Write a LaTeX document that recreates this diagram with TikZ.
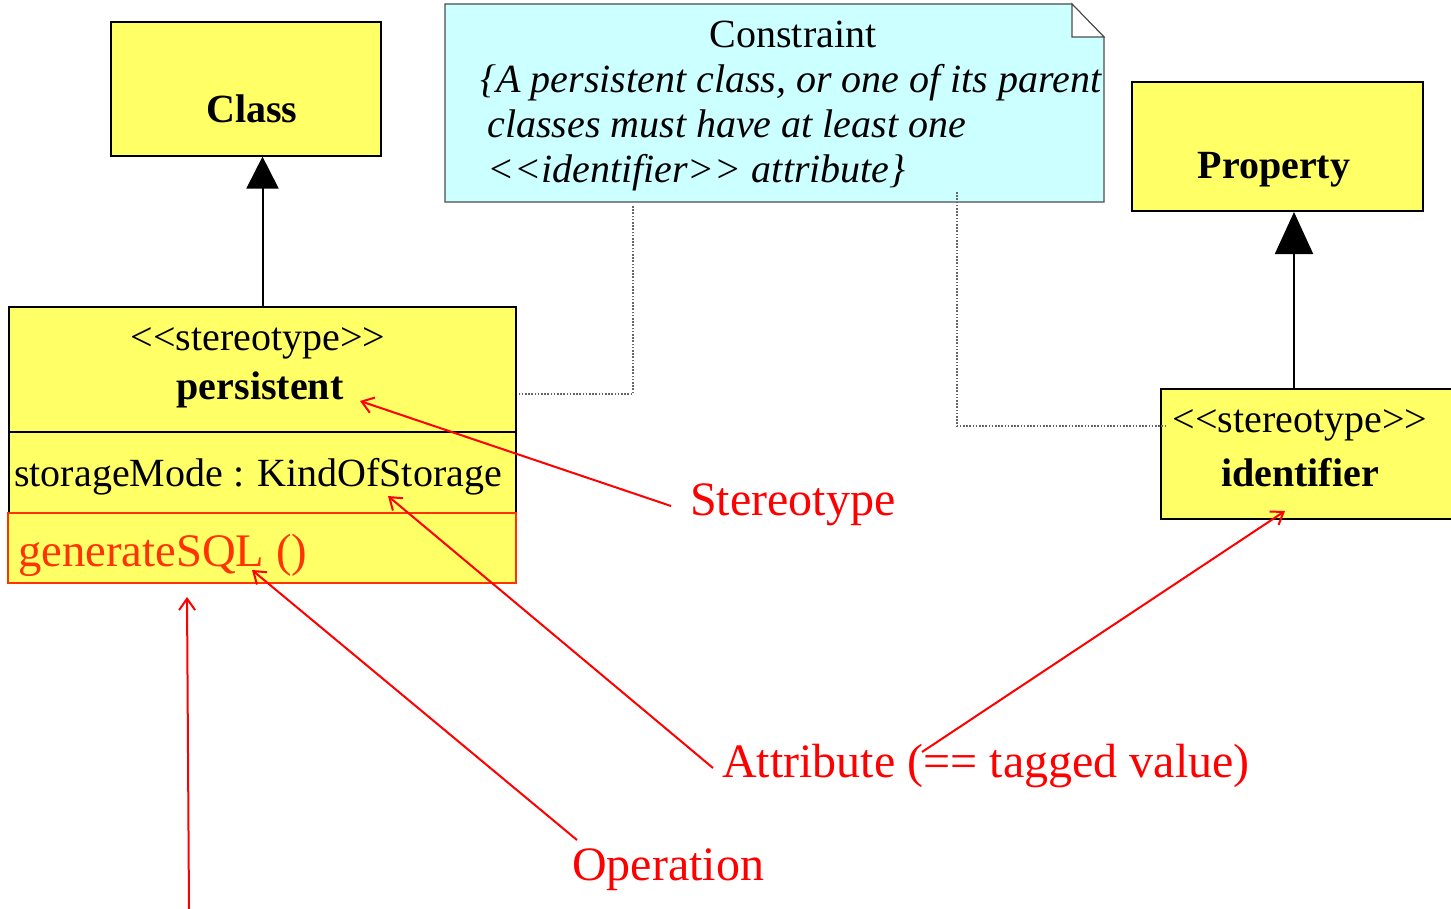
\documentclass[tikz,border=0pt]{standalone}
\usepackage{fontspec}
\setmainfont{Liberation Serif}
\usetikzlibrary{arrows.meta,calc}

\definecolor{umlyellow}{HTML}{FFFF66}
\definecolor{notecyan}{HTML}{CCFFFF}
\definecolor{opred}{HTML}{FF3300}
\newcommand\umlsize{\fontsize{30pt}{36pt}\selectfont}
\newcommand\calloutsize{\fontsize{36pt}{43pt}\selectfont}

\begin{document}
\begin{tikzpicture}[x=0.75pt,y=-0.75pt,
  box/.style={draw=black, fill=umlyellow, line width=0.9pt, inner sep=0pt},
  txt/.style={inner sep=0pt, font=\umlsize},
  callout/.style={inner sep=0pt, font=\calloutsize, text=red},
  inherit/.style={draw=black, line width=1.5pt},
  pointer/.style={draw=red, line width=1.5pt,
    -{Straight Barb[length=8.5pt,width=12pt,line width=1.5pt]}},
  dotline/.style={draw=black!60, line width=0.8pt, dash pattern=on 1.2pt off 1.2pt}]

\useasboundingbox (0,0) rectangle (1451,909);

% constraint note with folded corner
\path[draw=black!70, fill=notecyan, line width=0.8pt]
  (445,4) -- (1072,4) -- (1104,37) -- (1104,202) -- (445,202) -- cycle;
\path[draw=black!70, fill=white, line width=0.8pt]
  (1072,4) -- (1104,37) -- (1072,37) -- cycle;
\node[txt, anchor=base] (noteTitle) at (793,48) {Constraint};
\node[txt, anchor=base west, font=\umlsize\itshape] (noteL1) at (480,93)
  {\{A persistent class, or one of its parent};
\node[txt, anchor=base west, font=\umlsize\itshape] (noteL2) at (487,138)
  {classes must have at least one};
\node[txt, anchor=base west, font=\umlsize\itshape] (noteL3) at (487,183)
  {<{}<identifier>{}> attribute\}};

% metaclasses
\node[box, minimum width=202.5pt, minimum height=100.5pt] (classBox) at (246,89) {};
\node[txt, anchor=base, font=\umlsize\bfseries] (className) at (252,123) {Class};

\node[box, line width=1.5pt, minimum width=218.25pt, minimum height=96.75pt] (propBox) at (1277.5,146.5) {};
\node[txt, anchor=base, font=\umlsize\bfseries] (propName) at (1274,179) {Property};

% stereotype <<persistent>>
\node[box, minimum width=380.25pt, minimum height=93.75pt] (persistHead) at (262.5,369.5) {};
\node[box, minimum width=380.25pt, minimum height=60.75pt] (persistAttr) at (262.5,472.5) {};
\node[box, draw=opred, line width=1.2pt, minimum width=381pt, minimum height=52.5pt] (persistOps) at (262,548) {};
\node[txt, anchor=base] (persistSt) at (258,350) {<{}<stereotype>{}>};
\node[txt, anchor=base, font=\umlsize\bfseries] (persistName) at (260,399) {persistent};
\node[txt, anchor=base west] (attrText) at (14,486) {storageMode : KindOfStorage};
\node[txt, anchor=base west, font=\fontsize{35pt}{42pt}\selectfont, text=opred] (opText) at (18,566) {generateSQL ()};

% stereotype <<identifier>>
\node[box, line width=1.5pt, minimum width=220.5pt, minimum height=97.5pt] (identBox) at (1308,454) {};
\node[txt, anchor=base] (identSt) at (1300,432) {<{}<stereotype>{}>};
\node[txt, anchor=base, font=\umlsize\bfseries] (identName) at (1300,486) {identifier};

% extension arrows
\draw[inherit, -{Triangle[length=24pt,width=24pt]}]
  (persistHead.north) -- (persistHead.north |- classBox.south);
\coordinate (identTop) at ($(identBox.north)+(-14,0)$);
\draw[inherit, -{Triangle[length=31.5pt,width=28.5pt]}]
  (identTop) -- (identTop |- propBox.south);

% note anchors
\coordinate (noteFootL) at (633,205);
\coordinate (noteFootR) at (957,192);
\draw[dotline] ($(persistHead.east)+(2,24.5)$) -| (noteFootL);
\draw[dotline] (noteFootR) |- ($(identBox.west)+(6,-28)$);

% callouts
\node[callout, anchor=base west] (lblStereo) at (690,515) {Stereotype};
\node[callout, anchor=base west] (lblAttr) at (722,777) {Attribute (== tagged value)};
\node[callout, anchor=base west] (lblOp) at (572,880) {Operation};

\coordinate (stTail) at (671,506);   \coordinate (stHead) at (360,401);
\coordinate (atTail) at (713,768);   \coordinate (atHead) at (388,496);
\coordinate (tvTail) at (922,752);   \coordinate (tvHead) at (1285,511);
\coordinate (opTail) at (577,840);   \coordinate (opHead) at (252,570);
\coordinate (upTail) at (189,909);   \coordinate (upHead) at (187,597);

\draw[pointer] (stTail) -- (stHead);
\draw[pointer] (atTail) -- (atHead);
\draw[pointer] (tvTail) -- (tvHead);
\draw[pointer] (opTail) -- (opHead);
\draw[pointer] (upTail) -- (upHead);

\end{tikzpicture}
\end{document}
